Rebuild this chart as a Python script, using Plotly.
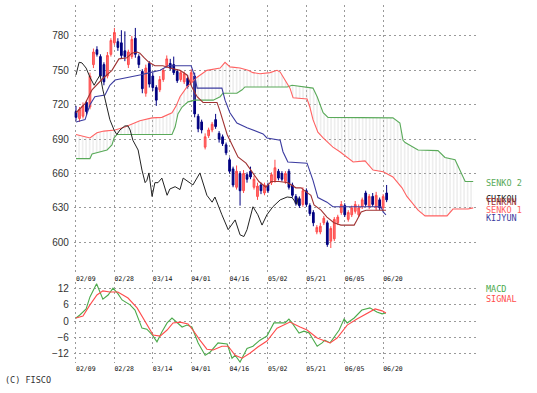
import plotly.graph_objects as go

# ---------------- data ----------------
date_ticks = [0, 11, 22, 33, 44, 55, 66, 77, 88]
date_labels = ["02/09", "02/28", "03/14", "04/01", "04/16", "05/02", "05/21", "06/05", "06/20"]

bar_idx = list(range(90))
opens = [714, 708, 710, 722, 718, 755, 768, 762, 755, 745, 764, 774, 775, 774, 767, 755, 762, 778, 762, 749,
         730, 756, 745, 735, 733, 742, 754, 756, 755, 749, 742, 740, 743, 739, 745, 710, 705, 683, 693, 698,
         707, 695, 692, 685, 672, 664, 648, 660, 645, 659, 662, 648, 640, 650, 643, 650, 652, 654, 662, 660,
         653, 662, 650, 640, 638, 633, 645, 632, 626, 609, 609, 617, 617, 601, 603, 617, 626, 632, 620, 624,
         627, 624, 631, 643, 631, 640, 630, 637, 630, 643]
highs = [719, 718, 722, 724, 748, 769, 771, 764, 757, 766, 778, 787, 778, 785, 784, 768, 780, 787, 764, 751,
         755, 758, 748, 737, 745, 752, 763, 760, 762, 751, 750, 749, 746, 751, 748, 712, 707, 695, 700, 705,
         712, 697, 694, 687, 674, 666, 667, 662, 663, 661, 666, 658, 652, 652, 652, 652, 661, 672, 664, 662,
         662, 664, 652, 642, 640, 648, 647, 634, 628, 615, 617, 623, 619, 614, 622, 624, 636, 634, 628, 632,
         636, 633, 639, 645, 642, 643, 644, 639, 642, 650]
lows = [706, 705, 708, 711, 716, 752, 762, 743, 737, 743, 762, 772, 767, 760, 758, 752, 760, 761, 752, 730,
        727, 735, 732, 719, 731, 740, 752, 750, 746, 739, 740, 738, 734, 737, 709, 696, 695, 681, 691, 696,
        699, 687, 684, 676, 660, 648, 646, 632, 643, 652, 655, 646, 637, 642, 641, 643, 650, 652, 654, 653,
        651, 646, 639, 632, 630, 631, 631, 623, 614, 607, 607, 615, 596, 595, 601, 615, 624, 622, 618, 622,
        625, 622, 629, 631, 629, 631, 628, 628, 628, 635]
closes = [709, 716, 719, 714, 745, 766, 764, 745, 740, 763, 776, 783, 770, 763, 762, 766, 777, 764, 755, 734,
          752, 738, 735, 724, 742, 750, 760, 752, 748, 741, 748, 747, 736, 748, 712, 699, 698, 692, 698, 703,
          701, 690, 686, 678, 662, 650, 662, 645, 660, 655, 657, 655, 649, 645, 650, 645, 659, 665, 656, 655,
          660, 648, 641, 634, 632, 645, 633, 625, 617, 613, 614, 621, 598, 612, 620, 622, 633, 624, 626, 630,
          633, 630, 637, 633, 640, 633, 641, 630, 640, 637]

tenkan_x = [0, 2.6, 4.6, 7.4, 10.3, 12.3, 14.6, 16, 17.5, 18.3, 19.5, 20.9, 22.6, 24.9, 26.9, 29.8, 31.8, 33.2,
            34.7, 36.4, 40.4, 41.3, 43.3, 44.4, 46.4, 48.7, 50.7, 52.4, 54.4, 55.9, 58.2, 60.7, 63, 64.5, 65.9,
            67.3, 68.2, 70.2, 71.9, 73.9, 75.9, 79.7, 80.5, 81.7, 83.1, 88.8]
tenkan_y = [713, 721, 733, 742, 750, 760, 761, 765, 766, 765, 761, 757, 754, 754, 752, 750, 746, 735.5,
            727, 722, 722, 714, 694, 687, 674.5, 669, 660.5, 653, 648, 653, 653, 652, 647.5, 647.5, 644,
            641, 632.5, 628, 622, 617, 615, 615, 619.5, 626.5, 628, 628]

kijun_x = [0, 2.6, 4, 5.4, 8.3, 9.7, 11.2, 15.5, 18.3, 21.2, 24.1, 26.4, 33, 34.1, 34.7, 41.8, 42.7, 44.1,
           46.1, 49, 53.6, 54.7, 58.5, 59.3, 60.7, 66.2, 67.9, 69.3, 71.9, 73.6, 87.4, 88, 88.8]
kijun_y = [705, 707, 720, 727, 728.5, 737, 741.5, 744, 746, 748, 750, 754, 754, 744, 734.5, 734.5, 724, 713,
           704, 700, 694.5, 691, 689, 679, 670, 669, 654, 639, 635, 631, 631, 626.5, 624]

senko1_x = [0, 4, 6, 8, 11.2, 14, 18.3, 21.8, 24.6, 27.5, 28.7, 29.8, 31.8, 34.7, 37.5, 41.3, 42.7, 44.1, 47,
            49.3, 50.7, 52.7, 55.6, 57.6, 58.5, 59.9, 61.3, 62.2, 66.2, 67, 67.9, 69.3, 70.8, 73.6, 75.6,
            79.4, 82.8, 85.1, 88, 90.8, 93.4, 94.8, 96.3, 98, 100, 106.3, 108, 112.3, 113.8]
senko1_y = [694, 691, 695.5, 697, 698, 700.5, 706, 708.5, 709, 713, 719, 727, 735.5, 744, 750, 752, 757, 753,
            752, 750, 748, 747, 748, 750, 748.5, 741.5, 734.5, 726, 725, 718, 707, 696, 691, 683, 679,
            670, 671, 663, 661.5, 657, 647.5, 640, 634.5, 628, 623, 623, 629, 629, 630]

senko2_x = [0, 4, 4.6, 6.9, 8.9, 10.3, 10.9, 11.7, 27.5, 28.4, 29.2, 30.4, 32.1, 34.1, 39.3, 41.3, 42.1, 46.1,
            47.6, 48.4, 60.5, 61.9, 65, 67.9, 69.1, 70.8, 72.2, 90.8, 92.8, 93.7, 94.3, 98, 103.7, 105.7,
            108.6, 110, 111.5, 113.8]
senko2_y = [673, 673, 677, 679, 680.5, 685, 691, 694, 694, 700.5, 712, 718, 722.5, 724, 724, 727, 730, 730,
            733, 735.5, 735.5, 737, 735.5, 734.5, 727, 713, 709, 708.5, 704, 689, 687, 680.5, 680, 674,
            672, 663, 653, 653]

chikou_x = [0, 0.9, 1.7, 2.9, 4, 5.2, 6, 6.9, 7.7, 8.6, 9.7, 10.9, 11.7, 12.6, 14, 14.9, 15.5, 16.3, 17.8,
            18.9, 19.8, 20.3, 20.9, 21.8, 22.6, 23.5, 24.6, 26.1, 26.9, 28.4, 29.8, 30.7, 32.1, 33.5, 35.5,
            37.5, 39, 39.8, 41.8, 43.6, 45.6, 47, 48.1, 49, 50.7, 52.1, 53.3, 54.7, 56.4, 58.5, 60.5, 61.9,
            63.3, 63.6]
chikou_y = [746, 757, 756.5, 752, 744, 737, 741.5, 746, 733, 720, 707, 698, 694, 698, 701.5, 701.5, 698, 689,
            680.5, 663, 652, 654, 660.5, 640, 652, 652, 656, 641, 646.5, 648.5, 646, 656, 653, 650, 660.5,
            641, 635, 639.5, 624, 611, 619.5, 606.5, 605, 611, 631, 624, 615, 624, 631, 637, 639.5, 639,
            633, 639]

macd_x = [0, 1.1, 2.9, 4.0, 5.9, 7.7, 9.2, 10.6, 12.0, 13.2, 15.5, 16.9, 18.9, 20.3, 21.8, 23.2, 24.6, 26.1,
          27.5, 28.9, 30.4, 31.8, 33.2, 35.0, 37.0, 38.4, 40.7, 43.3, 44.7, 45.6, 47.0, 49.0, 50.7, 52.7,
          54.7, 56.7, 59.9, 61.0, 61.9, 63.9, 65.3, 66.8, 69.1, 70.5, 71.3, 72.8, 73.9, 75.4, 76.8, 77.7,
          79.7, 81.9, 84.2, 86.2, 87.7, 88.8]
macd_y = [1.1, 2.2, 4.4, 8.8, 13.6, 8, 9.5, 12, 10, 7.7, 5.9, 4, -2.6, -3, -5, -7.6, -4, -0.7,
          1.1, -0.4, -2.2, -1.5, -2.2, -8, -12.5, -11.4, -8, -8.4, -13.6, -12.5, -15, -10, -9.2, -7,
          -5.5, -0.7, -0.7, 0.7, -0.7, -4.4, -3.7, -4.4, -9.2, -8, -7, -8, -5.9, -3.3, 0.7, -0.7,
          1.1, 4, 4.8, 3.3, 2.6, 2.9]

signal_x = [0, 2.0, 4.0, 6.0, 7.7, 9.7, 12.0, 14.9, 17.5, 20.3, 22.1, 24.1, 26.1, 27.8, 29.8, 32.1, 33.5,
            35.5, 37.5, 39.3, 41.8, 43.6, 45.6, 47.6, 49.9, 52.1, 54.7, 57.6, 61.3, 64.2, 66.2, 69.1, 72.8,
            74.8, 77.7, 80.5, 83.4, 85.7, 87.7, 88.8]
signal_y = [1.1, 1.8, 5.9, 9.5, 11, 10.6, 10.6, 8.4, 4.8, -1.5, -5.1, -5.5, -3.3, -0.7, -0.4, -1.1, -3.3,
            -7, -10.3, -10.6, -9.2, -9.2, -12.5, -13.6, -11.7, -9.5, -7.3, -2.6, -0.4, -2.2, -3.3, -6.2, -8,
            -6.2, -1.5, 0.7, 2.9, 4.4, 3.7, 2.9]

price_ticks = [600, 630, 660, 690, 720, 750, 780]
macd_ticks = [-12, -6, 0, 6, 12]

# ---------------- colours ----------------
C_UP = "#ff4a4a"
C_DOWN = "#000080"
C_TENKAN = "#a03232"
C_KIJUN = "#3c3ca0"
C_SENKO1 = "#ff6262"
C_SENKO2 = "#5aaa5a"
C_CHIKOU = "#222222"
C_MACD = "#4caa4c"
C_SIGNAL = "#ff4c4c"
GRID = "#9a9a9a"

fig = go.Figure()

# cloud
fig.add_trace(go.Scatter(x=senko2_x, y=senko2_y, mode="lines",
                         line=dict(color=C_SENKO2, width=1.1), xaxis="x", yaxis="y"))
fig.add_trace(go.Scatter(x=senko1_x, y=senko1_y, mode="lines",
                         line=dict(color=C_SENKO1, width=1.1), fill="tonexty",
                         fillcolor="rgba(0,0,0,0)",
                         fillpattern=dict(shape="|", size=3.5, solidity=0.28,
                                          fgcolor="#c4c4c4", bgcolor="rgba(255,255,255,0)",
                                          fillmode="overlay"),
                         xaxis="x", yaxis="y"))
fig.add_trace(go.Scatter(x=kijun_x, y=kijun_y, mode="lines",
                         line=dict(color=C_KIJUN, width=1.1), xaxis="x", yaxis="y"))
fig.add_trace(go.Scatter(x=chikou_x, y=chikou_y, mode="lines",
                         line=dict(color=C_CHIKOU, width=1.0), xaxis="x", yaxis="y"))
fig.add_trace(go.Scatter(x=tenkan_x, y=tenkan_y, mode="lines",
                         line=dict(color=C_TENKAN, width=1.1), xaxis="x", yaxis="y"))

fig.add_trace(go.Candlestick(x=bar_idx, open=opens, high=highs, low=lows, close=closes,
                             increasing=dict(line=dict(color=C_UP, width=1), fillcolor="#ff7070"),
                             decreasing=dict(line=dict(color=C_DOWN, width=1), fillcolor=C_DOWN),
                             whiskerwidth=0, xaxis="x", yaxis="y"))

# MACD panel
fig.add_trace(go.Scatter(x=macd_x, y=macd_y, mode="lines",
                         line=dict(color=C_MACD, width=1.1), xaxis="x2", yaxis="y2"))
fig.add_trace(go.Scatter(x=signal_x, y=signal_y, mode="lines",
                         line=dict(color=C_SIGNAL, width=1.1), xaxis="x2", yaxis="y2"))

W, H = 537, 393
xdom = [73.9 / W, 476.0 / W]
xrange_ = [-0.6, 114.6]
date_font = dict(family="DejaVu Sans Mono", size=6.5, color="#111111")
tick_font = dict(family="Liberation Sans, Arial, sans-serif", size=10, color="#333333")
griddash = "2px,3px"

axis_x_common = dict(domain=xdom, range=xrange_, tickmode="array", tickvals=date_ticks,
                     ticktext=date_labels, showgrid=True, gridcolor=GRID, griddash=griddash,
                     gridwidth=1, zeroline=False, showline=False, ticks="",
                     ticklabelposition="outside right", tickfont=date_font, fixedrange=True)

fig.update_layout(
    width=W, height=H,
    margin=dict(l=0, r=0, t=0, b=0),
    paper_bgcolor="white", plot_bgcolor="white",
    showlegend=False,
    xaxis=dict(anchor="y", rangeslider=dict(visible=False), **axis_x_common),
    xaxis2=dict(anchor="y2", **axis_x_common),
    yaxis=dict(domain=[(H - 273) / H, (H - 5) / H], range=[573.2, 807.0], tickmode="array",
               tickvals=price_ticks, showgrid=True, gridcolor=GRID, griddash=griddash,
               zeroline=False, showline=False, ticks="", tickfont=tick_font,
               ticklabelstandoff=4, fixedrange=True),
    yaxis2=dict(domain=[(H - 363) / H, (H - 282) / H], range=[-15.34, 14.25], tickmode="array",
                tickvals=macd_ticks, showgrid=True, gridcolor=GRID, griddash=griddash,
                zeroline=False, showline=False, ticks="", tickfont=tick_font,
                ticklabelstandoff=4, fixedrange=True),
)

lab_font = "DejaVu Sans Mono"
labels = [
    ("SENKO 2", 183, C_SENKO2),
    ("CHIKOU", 199, C_CHIKOU),
    ("TENKAN", 202, C_TENKAN),
    ("SENKO 1", 210, C_SENKO1),
    ("KIJYUN", 218, C_KIJUN),
    ("MACD", 289, C_MACD),
    ("SIGNAL", 299, C_SIGNAL),
]
for txt, ypix, col in labels:
    fig.add_annotation(text=txt, xref="paper", yref="paper", x=484 / W, y=(H - ypix) / H,
                       xanchor="left", yanchor="middle", showarrow=False,
                       font=dict(family=lab_font, size=8.5, color=col))

fig.add_annotation(text="(C) FISCO", xref="paper", yref="paper", x=3 / W, y=(H - 380) / H,
                   xanchor="left", yanchor="middle", showarrow=False,
                   font=dict(family=lab_font, size=8.5, color="#333333"))

fig.write_html("out.html",
               config={"displayModeBar": False, "staticPlot": True},
               post_script="document.body.style.margin='0';document.body.style.padding='0';"
                           "document.body.style.overflow='hidden';")
